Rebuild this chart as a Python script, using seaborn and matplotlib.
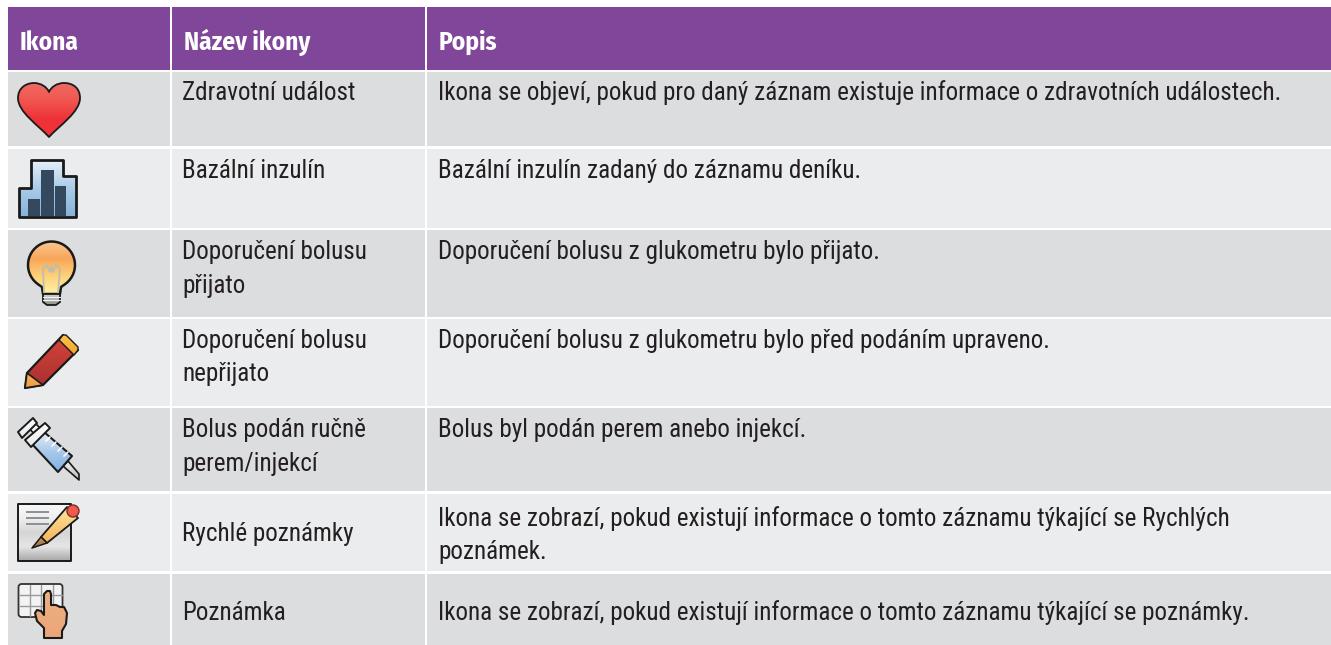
import numpy as np
import seaborn as sns
import matplotlib.pyplot as plt
from matplotlib.patches import Rectangle, PathPatch, Circle, FancyBboxPatch
from matplotlib.path import Path
from matplotlib.colors import LinearSegmentedColormap

sns.set_theme(style='white')
plt.rcParams['font.family'] = ['Roboto Condensed', 'Archivo Narrow', 'Liberation Sans', 'DejaVu Sans']
head_family = ['Fira Sans Condensed', 'Roboto Condensed', 'Liberation Sans', 'DejaVu Sans']

# table content
headers = ['Ikona', 'Název ikony', 'Popis']
names = ['Zdravotní událost', 'Bazální inzulín', 'Doporučení bolusu\npřijato',
         'Doporučení bolusu\nnepřijato', 'Bolus podán ručně\nperem/injekcí',
         'Rychlé poznámky', 'Poznámka']
descriptions = [
    'Ikona se objeví, pokud pro daný záznam existuje informace o zdravotních událostech.',
    'Bazální inzulín zadaný do záznamu deníku.',
    'Doporučení bolusu z glukometru bylo přijato.',
    'Doporučení bolusu z glukometru bylo před podáním upraveno.',
    'Bolus byl podán perem anebo injekcí.',
    'Ikona se zobrazí, pokud existují informace o tomto záznamu týkající se Rychlých\npoznámek.',
    'Ikona se zobrazí, pokud existují informace o tomto záznamu týkající se poznámky.',
]
row_edges = [(72, 146), (149, 228), (230, 317), (319, 406), (408, 491), (494, 571), (574, 645)]
name_baselines = [100, 178, 259, 348, 437, 541, 620]
desc_baselines = [100, 178, 259, 348, 437, 526, 620]
col_edges = [(8, 170), (172, 425), (427, 1331)]
purple = '#7f4699'
stripe = ['#dcdddf', '#ebecee']
ink = '#231f20'
line_gap = 33.5
body_size = 18.1
head_size = 18.2

fig = plt.figure(figsize=(13.31, 6.45), dpi=100)
ax = fig.add_axes([0, 0, 1, 1])
ax.set_xlim(0, 1331)
ax.set_ylim(645, 0)
ax.axis('off')


def rect(x0, y0, x1, y1, color, z=1):
    ax.add_patch(Rectangle((x0, y0), x1 - x0, y1 - y0, fc=color, ec='none', zorder=z))


def lines(x, y, text):
    for k, part in enumerate(text.split('\n')):
        ax.text(x, y + k * line_gap, part, color=ink, fontsize=body_size, va='baseline')


def shaded(verts, codes, stops, lw=1.5, edge='#1a1a1a', z=3):
    # vertical gradient clipped to a closed outline
    path = Path(verts, codes)
    outline = PathPatch(path, fc='none', ec=edge, lw=lw, zorder=z + 0.5, joinstyle='round')
    ax.add_patch(outline)
    ext = path.get_extents()
    cmap = LinearSegmentedColormap.from_list('g', stops)
    im = ax.imshow(np.linspace(0, 1, 64).reshape(-1, 1), cmap=cmap, aspect='auto', zorder=z,
                   extent=(ext.x0, ext.x1, ext.y1, ext.y0))
    im.set_clip_path(outline)


def poly(points, stops, lw=1.5, z=3):
    codes = [Path.MOVETO] + [Path.LINETO] * (len(points) - 1) + [Path.CLOSEPOLY]
    shaded(list(points) + [points[0]], codes, stops, lw=lw, z=z)


# header and rows
for (x0, x1), head in zip(col_edges, headers):
    rect(x0, 7, x1, 70, purple)
    ax.text(x0 + 12, 50, head, color='white', fontsize=head_size, fontweight='bold', va='baseline', family=head_family)
for i, (y0, y1) in enumerate(row_edges):
    for x0, x1 in col_edges:
        rect(x0, y0, x1, y1, stripe[i % 2])
    lines(182, name_baselines[i], names[i])
    lines(438, desc_baselines[i], descriptions[i])

# heart
M, L, C, Z = Path.MOVETO, Path.LINETO, Path.CURVE4, Path.CLOSEPOLY
heart = [(49, 137), (38, 125), (18, 112), (18, 98), (18, 88), (26, 83), (34, 83), (41, 83), (47, 87), (49, 92),
         (51, 87), (57, 83), (64, 83), (73, 83), (80, 88), (80, 98), (80, 112), (60, 125), (49, 137), (49, 137)]
shaded(heart, [M] + [C] * 18 + [Z], ['#ee6a62', '#f1554f', '#ee3237', '#ee3237'], lw=1.3)

# basal insulin icon
skyline = [(19, 217), (19, 188), (31, 188), (31, 160), (63, 160), (63, 176), (76, 176), (76, 217)]
poly(skyline, ['#e6f0f9', '#a9cbe8', '#86b3db'], lw=2.0)
for x0, y0, x1 in [(28, 199, 40), (41, 170, 54), (55, 186, 66)]:
    rect(x0, y0, x1, 216, '#35495e', z=5)

# bulb
arc = [(51.5 + 23.5 * np.cos(t), 265 + 23.5 * np.sin(t)) for t in np.radians(np.linspace(125, 415, 40))]
bulb = [(43, 294), (42, 287)] + arc + [(61, 287), (60, 294)]
poly(bulb, ['#f8c88f', '#f9a65a', '#fdd27a', '#fff2a6'], lw=1.8)
ax.plot([44, 43, 47, 50, 51.5, 53, 56, 60, 58],
        [293, 269, 265, 272, 266, 272, 265, 269, 293], color='#bdbdb0', lw=1.3, zorder=6)
poly([(43, 294), (60, 294), (60, 302), (56, 305), (47, 305), (43, 302)], ['#d2d2d2', '#8f8f8f'], lw=1.3, z=7)
for y in [297, 300]:
    ax.plot([43, 60], [y, y], color='#f2f2f2', lw=0.8, zorder=8)

# pencil
poly([(27, 373), (63, 335), (78, 350), (43, 385), (25, 388)], ['#d6453a', '#a82f30'], lw=1.6)
poly([(63, 335), (66, 335), (78, 347), (78, 350), (74, 355), (59, 340)], ['#fdc24d', '#f5a32c'], lw=1, z=5)
poly([(27, 373), (43, 385), (25, 388)], ['#f7b45c', '#ef9c3e'], lw=1.2, z=5)

# syringe
poly([(63, 466), (68, 461), (79, 474), (79, 480)], ['#f2f2f2', '#bdbdbd'], lw=1.2)
poly([(44, 432), (72, 456), (58, 472), (32, 444)], ['#e8eef5', '#a9c8ea', '#7fb0e3'], lw=1.5, z=4)
poly([(27, 426), (33, 421), (43, 431), (37, 437)], ['#ffffff', '#e8e8e8'], lw=1.2, z=5)
poly([(18, 432), (33, 418), (37, 423), (22, 438)], ['#ffffff', '#e8e8e8'], lw=1.4, z=6)
poly([(25, 440), (45, 423), (50, 428), (31, 447)], ['#ffffff', '#e8e8e8'], lw=1.4, z=6)
for k in range(4):
    ax.plot([46 + 6 * k, 50 + 6 * k], [441 + 5 * k, 437 + 5 * k], color='white', lw=1.2, zorder=7)

# quick note icon
poly([(18, 504), (71, 504), (71, 561), (18, 561)], ['#f8f8f8', '#eeeeee', '#d5d5d5', '#e6e6e6', '#a8a8a8'], lw=1.4)
for y in [512, 518, 524]:
    rect(26, y - 1.2, 49, y + 1.2, '#8f9294', z=6)
poly([(41, 537), (67, 507), (78, 518), (47, 543)], ['#fde3a0', '#f6b45a'], lw=1.3, z=6)
poly([(32, 548), (41, 537), (47, 543)], ['#d39a5c', '#94683b'], lw=1.1, z=7)
ax.add_patch(Circle((73, 511), 6, fc='#ef5a4c', ec='#7d2b25', lw=1, zorder=8))

# note icon
ax.add_patch(FancyBboxPatch((18.5, 584), 44, 33, boxstyle='round,pad=0,rounding_size=3',
                            fc='#f3f3f3', ec='#333333', lw=1.3, zorder=3))
for x in [30, 41, 53]:
    ax.plot([x, x], [585, 616], color='#9a9a9a', lw=1, zorder=4)
for y in [595, 606]:
    ax.plot([19, 62], [y, y], color='#9a9a9a', lw=1, zorder=4)
hand = [(44, 628), (37, 621), (35, 613), (37, 610), (41, 611), (44, 615), (44, 594), (47, 591), (50, 591), (51, 594),
        (51, 605), (56, 605), (60, 607), (64, 607), (67, 613), (66, 624), (62, 631), (62, 638), (44, 638)]
poly(hand, ['#eeb083', '#eba678'], lw=1.5, z=5)

plt.savefig('out.png', dpi=100)
